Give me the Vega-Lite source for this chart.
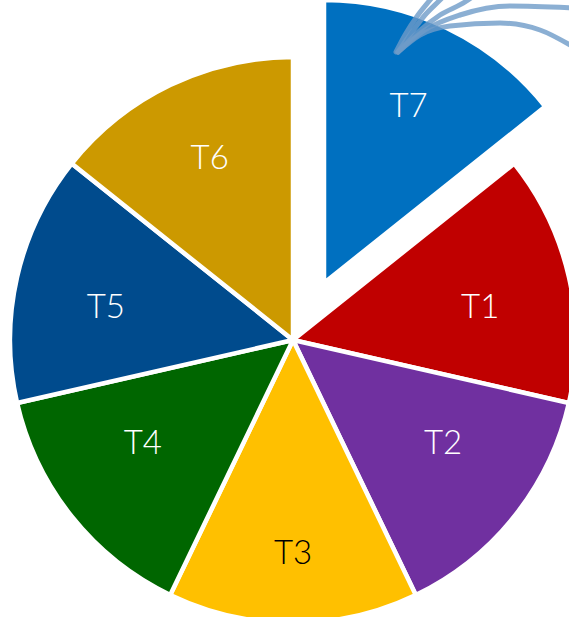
{
  "$schema": "https://vega.github.io/schema/vega-lite/v6.json",
  "width": 552,
  "height": 554,
  "autosize": "none",
  "padding": {"left": 17, "top": 63, "right": 0, "bottom": 0},
  "background": "white",
  "config": {"view": {"stroke": null}},
  "datasets": {
    "slices": [
      {"name": "T7", "ord": 0, "value": 1},
      {"name": "T1", "ord": 1, "value": 1},
      {"name": "T2", "ord": 2, "value": 1},
      {"name": "T3", "ord": 3, "value": 1},
      {"name": "T4", "ord": 4, "value": 1},
      {"name": "T5", "ord": 5, "value": 1},
      {"name": "T6", "ord": 6, "value": 1}
    ],
    "curves": [
      {"c": "c1", "i": 0, "x": 381, "y": 565}, {"c": "c1", "i": 1, "x": 403, "y": 582}, {"c": "c1", "i": 2, "x": 433, "y": 591}, {"c": "c1", "i": 3, "x": 483, "y": 594}, {"c": "c1", "i": 4, "x": 523, "y": 587}, {"c": "c1", "i": 5, "x": 558, "y": 569},
      {"c": "c2", "i": 0, "x": 383, "y": 567}, {"c": "c2", "i": 1, "x": 408, "y": 587}, {"c": "c2", "i": 2, "x": 443, "y": 602}, {"c": "c2", "i": 3, "x": 493, "y": 611}, {"c": "c2", "i": 4, "x": 558, "y": 609},
      {"c": "c3", "i": 0, "x": 381, "y": 565}, {"c": "c3", "i": 1, "x": 401, "y": 585}, {"c": "c3", "i": 2, "x": 423, "y": 602}, {"c": "c3", "i": 3, "x": 448, "y": 615}, {"c": "c3", "i": 4, "x": 458, "y": 622},
      {"c": "c4", "i": 0, "x": 381, "y": 565}, {"c": "c4", "i": 1, "x": 395, "y": 585}, {"c": "c4", "i": 2, "x": 408, "y": 602}, {"c": "c4", "i": 3, "x": 423, "y": 617}, {"c": "c4", "i": 4, "x": 428, "y": 622},
      {"c": "c5", "i": 0, "x": 379, "y": 565}, {"c": "c5", "i": 1, "x": 388, "y": 582}, {"c": "c5", "i": 2, "x": 401, "y": 602}, {"c": "c5", "i": 3, "x": 413, "y": 617}, {"c": "c5", "i": 4, "x": 417, "y": 622}
    ]
  },
  "layer": [
    {
      "data": {"name": "slices"},
      "mark": {"type": "arc", "outerRadius": 283, "stroke": "white", "strokeWidth": 4.5},
      "encoding": {
        "theta": {"field": "value", "type": "quantitative", "stack": true},
        "order": {"field": "ord", "type": "quantitative"},
        "color": {"field": "name", "type": "nominal", "legend": null,
          "scale": {"domain": ["T1", "T2", "T3", "T4", "T5", "T6", "T7"],
                    "range": ["#C00000", "#7030A0", "#FFC000", "#006600", "#004B8D", "#CC9900", "#0070C0"]}},
        "opacity": {"condition": {"test": "datum.name == 'T7'", "value": 0}, "value": 1}
      }
    },
    {
      "data": {"name": "slices"},
      "mark": {"type": "arc", "outerRadius": 283, "stroke": "white", "strokeWidth": 4.5, "xOffset": 31, "yOffset": -57},
      "encoding": {
        "theta": {"field": "value", "type": "quantitative", "stack": true},
        "order": {"field": "ord", "type": "quantitative"},
        "color": {"field": "name", "type": "nominal", "legend": null},
        "opacity": {"condition": {"test": "datum.name == 'T7'", "value": 1}, "value": 0}
      }
    },
    {
      "data": {"name": "curves"},
      "mark": {"type": "line", "interpolate": "monotone", "strokeWidth": 5, "color": "#6E9BC8", "opacity": 0.8, "strokeCap": "round"},
      "encoding": {
        "x": {"field": "x", "type": "quantitative", "scale": {"domain": [0, 552], "nice": false}, "axis": null},
        "y": {"field": "y", "type": "quantitative", "scale": {"domain": [0, 554], "nice": false}, "axis": null},
        "detail": {"field": "c"},
        "order": {"field": "i", "type": "quantitative"}
      }
    },
    {
      "data": {"name": "slices"},
      "mark": {"type": "text", "radius": 192, "font": "Lato", "fontSize": 33, "fontWeight": 300, "align": "center", "baseline": "middle",
               "dy": {"expr": "datum.name == 'T1' || datum.name == 'T5' ? 11 : (datum.name == 'T2' || datum.name == 'T4' ? -16 : (datum.name == 'T6' ? -8 : 0))"}},
      "encoding": {
        "theta": {"field": "value", "type": "quantitative", "stack": true},
        "order": {"field": "ord", "type": "quantitative"},
        "text": {"field": "name"},
        "color": {"value": "white"},
        "opacity": {"condition": {"test": "datum.name == 'T7' || datum.name == 'T3'", "value": 0}, "value": 1}
      }
    },
    {
      "data": {"name": "slices"},
      "mark": {"type": "text", "radius": 214, "font": "Lato", "fontSize": 33, "fontWeight": 300, "align": "center", "baseline": "middle"},
      "encoding": {
        "theta": {"field": "value", "type": "quantitative", "stack": true},
        "order": {"field": "ord", "type": "quantitative"},
        "text": {"field": "name"},
        "color": {"value": "black"},
        "opacity": {"condition": {"test": "datum.name == 'T3'", "value": 1}, "value": 0}
      }
    },
    {
      "data": {"name": "slices"},
      "mark": {"type": "text", "radius": 195, "font": "Lato", "fontSize": 33, "fontWeight": 300, "align": "center", "baseline": "middle", "xOffset": 31, "yOffset": -57},
      "encoding": {
        "theta": {"field": "value", "type": "quantitative", "stack": true},
        "order": {"field": "ord", "type": "quantitative"},
        "text": {"field": "name"},
        "color": {"value": "white"},
        "opacity": {"condition": {"test": "datum.name == 'T7'", "value": 1}, "value": 0}
      }
    }
  ]
}
